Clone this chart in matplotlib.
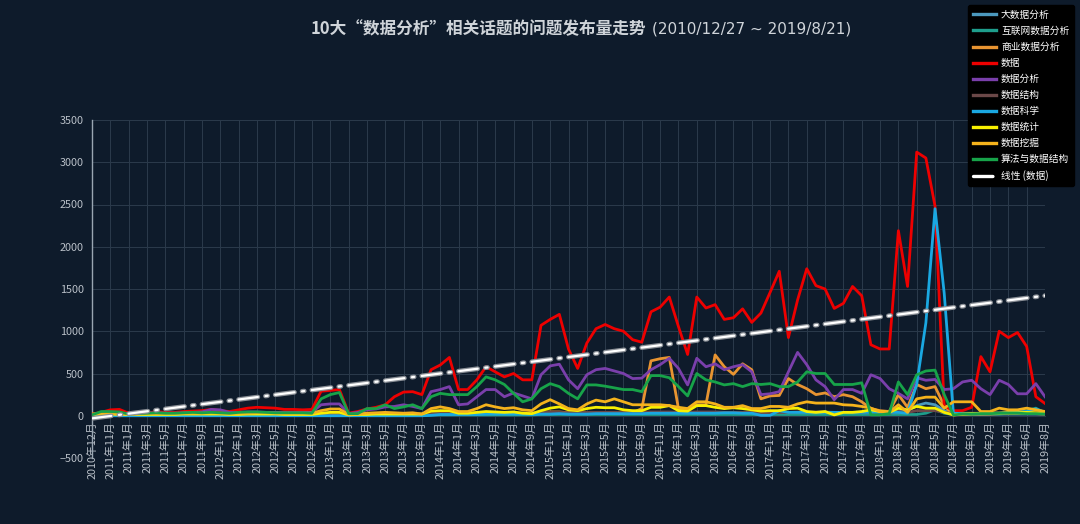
import numpy as np
import matplotlib
matplotlib.use("Agg")
import matplotlib.pyplot as plt

plt.rcParams['font.family'] = ['Noto Sans CJK SC', 'DejaVu Sans']
plt.rcParams['lines.scale_dashes'] = False

# categories: months, sorted as strings (like the source chart)
months = ['2010年12月']
for yr in range(2011, 2019):
    months += sorted(['%d年%d月' % (yr, m) for m in range(1, 13)])
months += ['2019年%d月' % m for m in range(1, 9)]

s_dashuju = [20, 40, 70, 75, 30, 30, 30, 50, 40, 40, 50, 55, 60, 75, 60, 50, 70, 90, 100, 95,
             90, 75, 75, 70, 75, 290, 300, 310, 30, 50, 80, 100, 130, 225, 280, 285, 250, 545, 600, 690,
             310, 310, 425, 580, 520, 460, 500, 425, 425, 1070, 1140, 1200, 790, 560, 860, 1030, 1080, 1030, 1000, 900,
             870, 1230, 1285, 1405, 1055, 725, 1405, 1275, 1315, 1140, 1160, 1265, 1105, 1215, 1460, 1710, 925, 1370, 1740, 1540,
             1500, 1270, 1330, 1530, 1420, 840, 790, 790, 2190, 1530, 3120, 3050, 2480, 120, 60, 60, 100, 700, 520, 1000,
             925, 985, 820, 225, 145]
s_fenxi = [10, 20, 30, 30, 20, 30, 30, 35, 30, 30, 35, 40, 45, 75, 70, 40, 40, 45, 45, 40,
           40, 40, 40, 40, 40, 130, 140, 140, 25, 40, 70, 80, 105, 110, 130, 110, 85, 285, 310, 345,
           130, 140, 225, 310, 310, 225, 270, 235, 200, 485, 590, 610, 425, 320, 485, 545, 560, 530, 500, 440,
           445, 545, 605, 680, 560, 365, 680, 580, 615, 545, 580, 605, 520, 250, 260, 285, 520, 750, 605, 425,
           345, 190, 310, 310, 265, 485, 440, 320, 265, 200, 450, 420, 430, 310, 320, 400, 420, 320, 250, 420,
           370, 260, 260, 380, 225]
s_suanfa = [10, 50, 50, 45, 20, 25, 30, 35, 30, 30, 35, 40, 35, 40, 35, 30, 40, 45, 45, 40,
            35, 35, 35, 35, 30, 200, 250, 275, 25, 25, 85, 85, 130, 85, 105, 130, 85, 225, 265, 250,
            250, 250, 345, 460, 425, 370, 265, 165, 200, 320, 380, 345, 265, 200, 365, 365, 350, 330, 310, 310,
            285, 475, 475, 450, 345, 235, 500, 425, 400, 365, 380, 345, 380, 370, 380, 345, 345, 400, 520, 500,
            500, 370, 370, 370, 390, 10, 10, 25, 400, 250, 485, 530, 540, 250, 10, 20, 20, 25, 25, 30,
            30, 30, 25, 25, 20]
s_shangye = [5, 10, 10, 10, 5, 5, 5, 10, 10, 10, 10, 10, 10, 15, 10, 10, 10, 15, 15, 15,
             15, 15, 15, 15, 15, 20, 25, 25, 5, 10, 15, 15, 20, 20, 20, 20, 15, 30, 35, 35,
             25, 25, 30, 35, 35, 30, 30, 30, 25, 40, 45, 45, 35, 30, 40, 40, 40, 40, 40, 35,
             85, 650, 675, 690, 85, 70, 130, 130, 720, 580, 490, 615, 545, 200, 235, 240, 440, 370, 320, 250,
             270, 225, 250, 225, 165, 85, 60, 50, 250, 100, 370, 320, 345, 120, 10, 15, 20, 20, 20, 25,
             25, 30, 25, 25, 20]
s_wajue = [20, 30, 30, 25, 20, 20, 25, 25, 25, 25, 30, 30, 30, 35, 30, 25, 30, 30, 35, 35,
           30, 30, 30, 30, 30, 60, 80, 80, 15, 20, 30, 35, 40, 35, 30, 35, 20, 85, 105, 85,
           50, 50, 85, 130, 105, 85, 95, 70, 60, 140, 190, 140, 85, 70, 140, 185, 165, 200, 165, 130,
           130, 130, 130, 120, 100, 85, 165, 165, 140, 100, 100, 120, 85, 85, 110, 110, 100, 140, 165, 150,
           150, 150, 130, 125, 110, 90, 50, 40, 130, 40, 200, 220, 220, 90, 165, 165, 165, 50, 50, 90,
           70, 70, 90, 70, 50]
s_tongji = [15, 20, 20, 15, 15, 15, 15, 15, 15, 15, 20, 20, 20, 20, 20, 15, 15, 20, 20, 20,
            20, 15, 15, 15, 15, 30, 40, 40, 10, 15, 15, 20, 20, 20, 20, 20, 20, 55, 60, 60,
            30, 30, 40, 50, 45, 40, 45, 30, 25, 60, 90, 105, 70, 60, 85, 100, 95, 95, 70, 60,
            60, 100, 100, 120, 60, 55, 120, 120, 100, 85, 95, 85, 70, 55, 60, 60, 85, 90, 50, 40,
            50, 10, 40, 40, 50, 70, 50, 40, 90, 70, 110, 90, 90, 40, 10, 20, 25, 25, 30, 30,
            35, 35, 40, 35, 30]
s_kexue = [0, 0, 0, 0, 0, 0, 0, 0, 0, 0, 0, 0, 0, 0, 0, 0, 0, 0, 0, 0,
           0, 0, 0, 0, 0, 0, 0, 0, 0, 0, 0, 0, 0, 0, 0, 0, 0, 5, 15, 15,
           15, 15, 15, 20, 20, 20, 20, 20, 15, 20, 20, 25, 20, 20, 20, 25, 25, 25, 25, 25,
           25, 30, 30, 30, 30, 30, 30, 30, 30, 35, 35, 30, 30, 5, 5, 60, 40, 40, 40, 40,
           40, 40, 40, 40, 40, 40, 40, 40, 40, 30, 370, 1100, 2450, 1450, 30, 25, 25, 30, 30, 30,
           35, 40, 50, 80, 40]
s_dsj = [5, 5, 5, 5, 5, 5, 5, 5, 5, 5, 10, 10, 10, 10, 10, 10, 10, 10, 10, 10,
         10, 10, 10, 10, 10, 20, 20, 20, 5, 10, 10, 10, 15, 15, 15, 15, 15, 20, 20, 20,
         20, 20, 20, 25, 25, 25, 25, 25, 25, 30, 30, 30, 30, 30, 30, 30, 30, 30, 30, 30,
         30, 30, 30, 30, 30, 30, 30, 30, 30, 30, 30, 30, 30, 30, 30, 30, 30, 30, 30, 30,
         30, 30, 30, 30, 30, 30, 30, 30, 60, 60, 120, 150, 130, 60, 20, 20, 20, 20, 20, 20,
         20, 20, 20, 20, 20]
s_hlw = [5, 5, 5, 5, 5, 5, 5, 5, 5, 5, 5, 5, 5, 5, 5, 5, 5, 5, 5, 5,
         5, 5, 5, 5, 5, 10, 10, 10, 5, 5, 5, 5, 5, 5, 5, 5, 5, 10, 10, 10,
         10, 10, 10, 10, 10, 10, 10, 10, 10, 15, 15, 15, 15, 15, 15, 15, 15, 15, 15, 15,
         15, 15, 15, 15, 15, 15, 15, 15, 15, 15, 15, 15, 15, 15, 15, 15, 15, 15, 15, 15,
         15, 15, 15, 15, 15, 15, 15, 15, 15, 15, 15, 30, 70, 30, 15, 15, 15, 15, 20, 20,
         30, 40, 60, 90, 30]
s_jiegou = [10, 15, 15, 15, 10, 10, 10, 15, 15, 15, 15, 15, 15, 20, 15, 15, 15, 20, 20, 20,
            20, 20, 20, 20, 20, 30, 30, 30, 10, 15, 20, 20, 25, 25, 25, 25, 20, 30, 35, 35,
            30, 30, 30, 35, 35, 35, 35, 30, 30, 40, 40, 40, 35, 35, 40, 40, 40, 40, 40, 40,
            40, 45, 45, 45, 40, 40, 45, 45, 45, 40, 40, 40, 40, 35, 35, 40, 40, 45, 45, 45,
            45, 40, 40, 40, 40, 35, 30, 30, 50, 40, 60, 60, 60, 40, 25, 30, 30, 30, 35, 35,
            40, 40, 45, 45, 35]

series = [
    ('大数据分析', s_dsj, '#4b98bd'),
    ('互联网数据分析', s_hlw, '#1e9e8c'),
    ('商业数据分析', s_shangye, '#e89431'),
    ('数据', s_dashuju, '#ee0000'),
    ('数据分析', s_fenxi, '#7a3fab'),
    ('数据结构', s_jiegou, '#6b4848'),
    ('数据科学', s_kexue, '#1aa8e2'),
    ('数据统计', s_tongji, '#f8f000'),
    ('数据挖掘', s_wajue, '#f5b31c'),
    ('算法与数据结构', s_suanfa, '#17a349'),
]

bg = '#0e1b2b'
fig = plt.figure(figsize=(10.8, 5.24), dpi=100, facecolor=bg)
ax = fig.add_axes([92 / 1080, 1 - 458 / 524, (1045 - 92) / 1080, (458 - 120) / 524])
ax.set_facecolor(bg)
ax.spines['bottom'].set_position(('data', 0))

x = np.arange(len(months))
for name, vals, col in series:
    ax.plot(x, vals, color=col, lw=2.0, label=name, zorder=3)

# linear trend of 数据
k, b = np.polyfit(x, s_dashuju, 1)
trend = k * x + b
pat = (0, (14, 5.5, 1.6, 5.5))
ax.plot(x, trend, color='#8a8f96', lw=3.4, linestyle=pat, dash_capstyle='round', zorder=4)
ax.plot(x, trend, color='white', lw=1.6, linestyle=pat, dash_capstyle='round', zorder=5,
        label='线性 (数据)')

ax.set_xlim(0, len(months) - 1)
ax.set_ylim(-500, 3500)
ax.set_yticks(np.arange(-500, 3501, 500))
ax.set_xticks(x[::2])
ax.set_xticklabels(months[::2], fontsize=7.8, color='#b9c0c8')
ax.tick_params(axis='x', length=0, pad=4, labelrotation=90)
ax.tick_params(axis='y', labelsize=7.8, colors='#b9c0c8', length=0, pad=6)
ax.grid(True, color='#2b3a4b', lw=0.7)
ax.set_axisbelow(True)
for sp in ['top', 'right']:
    ax.spines[sp].set_visible(False)
ax.spines['left'].set_color('#9aa6b2')
ax.spines['left'].set_linewidth(1.0)
ax.spines['bottom'].set_color('#2b3a4b')

leg = ax.legend(loc='upper left', bbox_to_anchor=(968 / 1080, 1 - 5 / 524), bbox_transform=fig.transFigure,
                fontsize=7, frameon=True, facecolor='black', edgecolor='black', framealpha=1,
                handlelength=2.4, labelspacing=0.62, borderpad=0.5, handletextpad=0.5, borderaxespad=0)
for t in leg.get_texts():
    t.set_color('white')
for h in leg.get_lines():
    h.set_linewidth(2.4)
leg.set_zorder(10)

fig.text(311 / 1080, 1 - 29 / 524, '10大“数据分析”相关话题的问题发布量走势', fontsize=12, fontweight='bold',
         color='#cfd4d9', ha='left', va='center')
fig.text(652 / 1080, 1 - 29.5 / 524, '(2010/12/27 ~ 2019/8/21)', fontsize=11, family='DejaVu Sans',
         color='#cfd4d9', ha='left', va='center')

fig.savefig('out.png', dpi=100, facecolor=bg)
